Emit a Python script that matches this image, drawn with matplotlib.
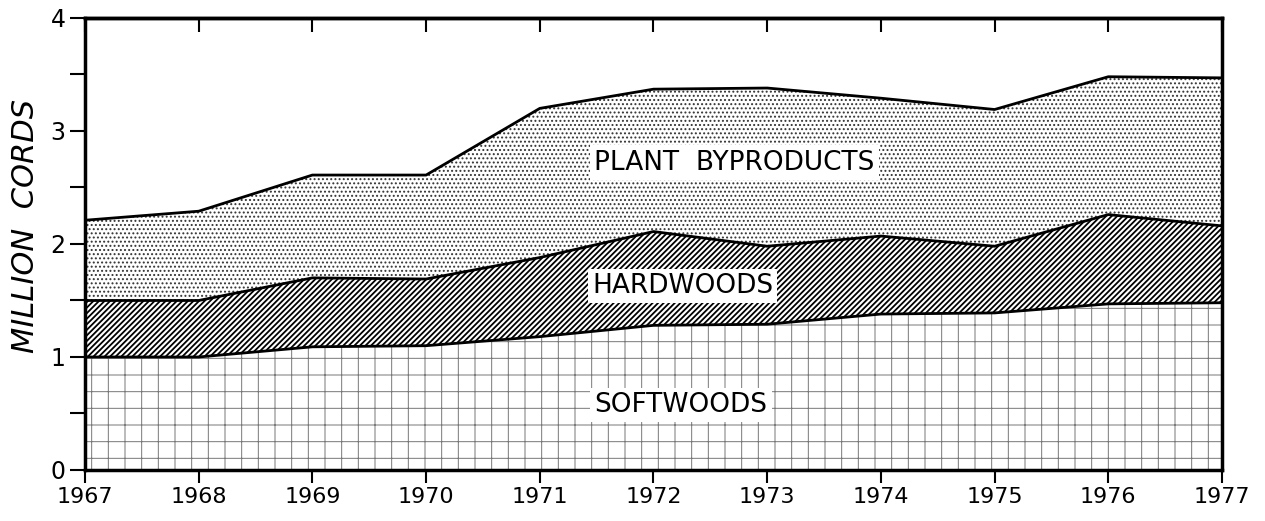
import matplotlib
matplotlib.use("Agg")
import matplotlib.pyplot as plt
import numpy as np

years = [1967, 1968, 1969, 1970, 1971, 1972, 1973, 1974, 1975, 1976, 1977]
softwoods = [1.00, 1.00, 1.09, 1.10, 1.18, 1.28, 1.29, 1.38, 1.39, 1.47, 1.48]
hardwoods_top = [1.50, 1.50, 1.70, 1.69, 1.88, 2.11, 1.98, 2.07, 1.98, 2.26, 2.16]
total = [2.21, 2.29, 2.61, 2.61, 3.20, 3.37, 3.38, 3.29, 3.19, 3.48, 3.47]
hardwoods = [h - s for h, s in zip(hardwoods_top, softwoods)]
byproducts = [t - h for t, h in zip(total, hardwoods_top)]
y_ticks = [0, 1, 2, 3, 4]
y_tick_labels = ["0", "1", "2", "3", "4"]

fig = plt.figure(figsize=(12.65, 5.21), dpi=100)
ax = fig.add_axes([0.0672, 0.0979, 0.8988, 0.8676])

x = np.array(years)
s = np.array(softwoods)
h = s + np.array(hardwoods)
t = h + np.array(byproducts)

plt.rcParams['hatch.linewidth'] = 0.7
ax.fill_between(x, 0, s, facecolor='white', edgecolor='#777777', hatch='+', linewidth=0)
plt.rcParams['hatch.linewidth'] = 1.3
ax.fill_between(x, s, h, facecolor='white', edgecolor='black', hatch='//////', linewidth=0)
plt.rcParams['hatch.linewidth'] = 0.9
ax.fill_between(x, h, t, facecolor='white', edgecolor='#333333', hatch='....', linewidth=0)
for line in (s, h, t):
    ax.plot(x, line, color='black', lw=2)

ax.set_xlim(1967, 1977)
ax.set_ylim(0, 4)
ax.set_xticks(years)
ax.set_xticklabels([str(y) for y in years], fontsize=16)
ax.set_yticks(y_ticks)
ax.set_yticklabels(y_tick_labels, fontsize=17)
ax.set_yticks(np.arange(0.5, 4, 1.0), minor=True)
ax.tick_params(axis='y', which='both', direction='out', length=11, width=1.5, pad=3)
ax.tick_params(axis='x', which='both', direction='out', length=9, width=1.5, pad=3)
top = ax.secondary_xaxis('top')
top.set_xticks(years)
top.tick_params(axis='x', direction='in', length=10, width=1.5, labeltop=False)
top.spines['top'].set_linewidth(2.5)
for sp in ax.spines.values():
    sp.set_linewidth(2.5)

ax.set_ylabel("MILLION  CORDS", fontsize=22, style='italic', va='center')
ax.yaxis.set_label_coords(-0.052, 0.54)

box = dict(facecolor='white', edgecolor='none', pad=3)
ax.text(1971.48, 2.72, "PLANT  BYPRODUCTS", fontsize=19, ha='left', va='center', bbox=box)
ax.text(1971.46, 1.63, "HARDWOODS", fontsize=19, ha='left', va='center', bbox=box)
ax.text(1971.48, 0.575, "SOFTWOODS", fontsize=19, ha='left', va='center', bbox=box)

fig.savefig("out.png", dpi=100)
